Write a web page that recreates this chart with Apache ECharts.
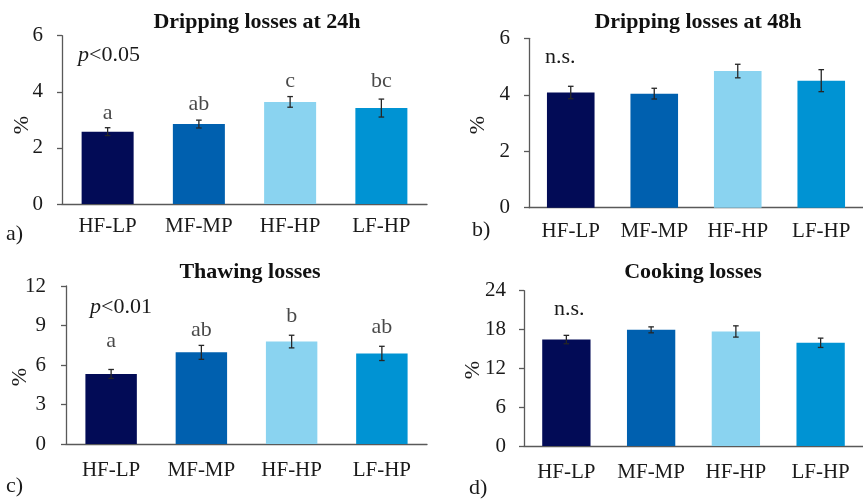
<!DOCTYPE html>
<html>
<head>
<meta charset="utf-8">
<script src="https://cdn.jsdelivr.net/npm/echarts@6/dist/echarts.min.js"></script>
<style>html,body{margin:0;padding:0;background:#fff;}#c{width:863px;height:499px;}</style>
</head>
<body>
<div id="c"></div>
<script>
var categories = ['HF-LP', 'MF-MP', 'HF-HP', 'LF-HP'];
var barColors = ['#020b56', '#0060af', '#8ad3f0', '#0093d3'];

var titles = ['Dripping losses at 24h', 'Dripping losses at 48h', 'Thawing losses', 'Cooking losses'];

var drip24 = [2.58, 2.85, 3.64, 3.42];
var drip24Err = [0.14, 0.14, 0.19, 0.32];
var drip24Letters = ['a', 'ab', 'c', 'bc'];
var drip24LetterY = [3.24, 3.56, 4.37, 4.37];

var drip48 = [4.08, 4.04, 4.84, 4.50];
var drip48Err = [0.22, 0.19, 0.24, 0.39];

var thaw = [5.32, 6.96, 7.78, 6.88];
var thawErr = [0.34, 0.53, 0.48, 0.54];
var thawLetters = ['a', 'ab', 'b', 'ab'];
var thawLetterY = [7.84, 8.66, 9.67, 8.86];

var cook = [16.45, 17.95, 17.70, 15.95];
var cookErr = [0.65, 0.46, 0.87, 0.72];

var yTicks24 = [0, 2, 4, 6];
var yTicks48 = [0, 2, 4, 6];
var yTicksThaw = [0, 3, 6, 9, 12];
var yTicksCook = [0, 6, 12, 18, 24];

var FONT = '"Liberation Serif", "Times New Roman", serif';
var TXT = '#1a1a1a';

var grids = [
  {left: 62, top: 35.7, width: 365, height: 168.3},
  {left: 529, top: 38.3, width: 348, height: 169.4},
  {left: 66, top: 286, width: 361, height: 158},
  {left: 524, top: 290.7, width: 347, height: 155.3}
];
var ticksets = [yTicks24, yTicks48, yTicksThaw, yTicksCook];
var xMargins = [12, 13, 16, 16];
var yMargins = [19, 19, 20, 18];

function xAxis(i) {
  return {
    type: 'category', gridIndex: i, data: categories,
    axisLine: {lineStyle: {color: '#595959', width: 1.3}},
    axisTick: {show: false},
    axisLabel: {interval: 0, fontFamily: FONT, fontSize: 21, color: TXT, margin: xMargins[i]}
  };
}
function yAxis(i) {
  var t = ticksets[i];
  return {
    type: 'value', gridIndex: i, min: t[0], max: t[t.length - 1], interval: t[1] - t[0],
    axisLine: {show: true, lineStyle: {color: '#595959', width: 1.3}},
    axisTick: {show: true, length: 5, lineStyle: {color: '#595959', width: 1.3}},
    splitLine: {show: false},
    axisLabel: {fontFamily: FONT, fontSize: 21, color: TXT, margin: yMargins[i]}
  };
}

function barSeries(i, vals) {
  return {
    type: 'bar', xAxisIndex: i, yAxisIndex: i, barWidth: '57%',
    data: vals.map(function (v, k) { return {value: v, itemStyle: {color: barColors[k]}}; }),
    silent: true
  };
}
function errSeries(i, vals, errs) {
  return {
    type: 'custom', xAxisIndex: i, yAxisIndex: i, z: 5, silent: true,
    data: vals.map(function (v, k) { return [k, v, errs[k]]; }),
    encode: {x: 0, y: 1},
    renderItem: function (params, api) {
      var x = api.value(0), v = api.value(1), e = api.value(2);
      var top = api.coord([x, v + e]);
      var bot = api.coord([x, v - e]);
      var w = 2.8;
      var st = {stroke: '#262626', lineWidth: 1.3};
      return {type: 'group', children: [
        {type: 'line', shape: {x1: top[0], y1: top[1], x2: bot[0], y2: bot[1]}, style: st},
        {type: 'line', shape: {x1: top[0] - w, y1: top[1], x2: top[0] + w, y2: top[1]}, style: st},
        {type: 'line', shape: {x1: bot[0] - w, y1: bot[1], x2: bot[0] + w, y2: bot[1]}, style: st}
      ]};
    }
  };
}
function letterSeries(i, ys, letters) {
  return {
    type: 'scatter', xAxisIndex: i, yAxisIndex: i, symbolSize: 1, silent: true,
    itemStyle: {color: 'rgba(0,0,0,0)'},
    data: ys.map(function (y, k) { return [k, y]; }),
    label: {show: true, position: 'inside', fontFamily: FONT, fontSize: 22, color: TXT,
      formatter: function (p) { return letters[p.dataIndex]; }}
  };
}

var titlePos = [[257, 11], [698, 11], [250, 261], [693, 261]];
var titleOpts = titles.map(function (t, i) {
  return {text: t, left: titlePos[i][0], top: titlePos[i][1], textAlign: 'center', padding: 0,
    textStyle: {fontFamily: FONT, fontWeight: 'bold', fontSize: 22, color: '#111'}};
});

function txt(s, x, y, opts) {
  var o = {type: 'text', x: x, y: y, silent: true,
    style: {text: s, fontFamily: FONT, fontSize: 22, fill: TXT, align: 'left', verticalAlign: 'middle'}};
  if (opts) { for (var k in opts) o.style[k] = opts[k]; }
  return o;
}
function pct(x, y) {
  return {type: 'text', x: x, y: y, rotation: Math.PI / 2, silent: true,
    style: {text: '%', fontFamily: FONT, fontSize: 22, fill: TXT, align: 'center', verticalAlign: 'middle'}};
}

var graphics = [
  {type: 'text', x: 78, y: 55, silent: true, style: {
    rich: {i: {fontFamily: FONT, fontSize: 22, fontStyle: 'italic', fill: TXT}, n: {fontFamily: FONT, fontSize: 22, fill: TXT}},
    text: '{i|p}{n|<0.05}', verticalAlign: 'middle'}},
  {type: 'text', x: 90, y: 307, silent: true, style: {
    rich: {i: {fontFamily: FONT, fontSize: 22, fontStyle: 'italic', fill: TXT}, n: {fontFamily: FONT, fontSize: 22, fill: TXT}},
    text: '{i|p}{n|<0.01}', verticalAlign: 'middle'}},
  txt('n.s.', 545, 57),
  txt('n.s.', 554, 309),
  txt('a)', 6, 234),
  txt('b)', 472, 230),
  txt('c)', 6, 486),
  txt('d)', 469, 488),
  pct(22, 125),
  pct(478, 125),
  pct(20, 377),
  pct(473, 370)
];

var chart = echarts.init(document.getElementById('c'), null, {renderer: 'canvas'});
chart.setOption({
  animation: false,
  backgroundColor: '#ffffff',
  title: titleOpts,
  grid: grids,
  xAxis: [0, 1, 2, 3].map(xAxis),
  yAxis: [0, 1, 2, 3].map(yAxis),
  series: [
    barSeries(0, drip24), errSeries(0, drip24, drip24Err), letterSeries(0, drip24LetterY, drip24Letters),
    barSeries(1, drip48), errSeries(1, drip48, drip48Err),
    barSeries(2, thaw), errSeries(2, thaw, thawErr), letterSeries(2, thawLetterY, thawLetters),
    barSeries(3, cook), errSeries(3, cook, cookErr)
  ],
  graphic: graphics
});
</script>
</body>
</html>
